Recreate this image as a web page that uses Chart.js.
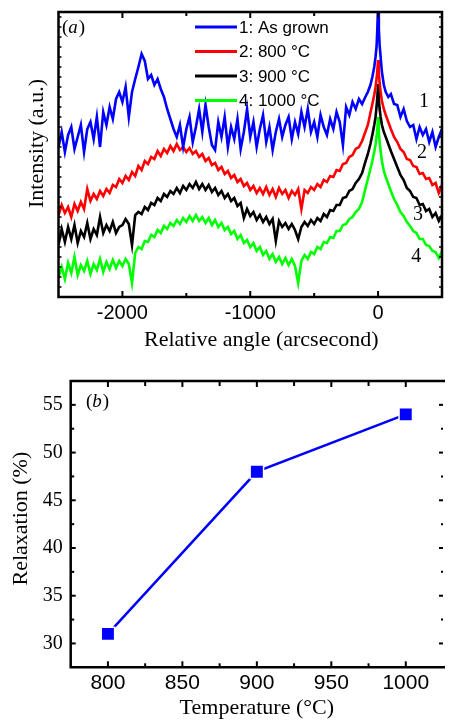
<!DOCTYPE html>
<html><head><meta charset="utf-8">
<script src="https://cdn.jsdelivr.net/npm/chart.js@4/dist/chart.umd.min.js"></script>
<style>
html,body{margin:0;padding:0;background:#fff;width:454px;height:720px;overflow:hidden}
canvas{display:block;position:absolute;left:0}
#ca{top:0}#cb{top:360px}
</style></head><body>
<canvas id="ca" width="454" height="360"></canvas>
<canvas id="cb" width="454" height="360"></canvas>
<script>
// ---------- Panel (a): rocking curves (relative angle in arcsec, intensity in arbitrary units) ----------
const ANGLE = [
-2500,-2475,-2450,-2425,-2400,-2375,-2350,-2325,-2300,-2275,
-2250,-2225,-2200,-2175,-2150,-2125,-2100,-2075,-2050,-2025,
-2000,-1975,-1950,-1925,-1900,-1875,-1850,-1825,-1800,-1775,
-1750,-1725,-1700,-1675,-1650,-1625,-1600,-1575,-1550,-1525,
-1500,-1475,-1450,-1425,-1400,-1375,-1350,-1325,-1300,-1275,
-1250,-1225,-1200,-1175,-1150,-1125,-1100,-1075,-1050,-1025,
-1000,-975,-950,-925,-900,-875,-850,-825,-800,-775,
-750,-725,-700,-675,-650,-625,-600,-575,-550,-525,
-500,-475,-450,-425,-400,-375,-350,-325,-300,-275,
-250,-225,-200,-175,-150,
-125,-100,-80,-60,-45,-30,-20,-12,-6,0,6,12,20,30,45,60,80,100,125,
150,175,200,225,250,275,300,325,350,375,400,425,450,475,500];

const I_ASGROWN = [
150,165,145,162,170,148,160,172,145,168,
175,158,180,150,185,172,190,178,198,205,
195,210,180,205,218,230,243,236,218,222,
212,218,208,200,188,178,168,160,172,150,
168,180,155,170,188,165,192,170,152,147,
175,160,180,150,170,158,178,148,165,188,
160,175,150,168,182,155,170,147,165,178,
160,172,180,158,175,163,185,170,188,165,
175,160,182,170,162,178,168,185,175,152,
190,182,195,188,198,
193,200,205,212,220,230,240,250,268,292,268,252,240,225,212,205,200,203,193,
192,180,188,176,170,172,158,170,162,168,155,165,150,160,168];

const I_800 = [
82,92,84,90,80,93,86,95,88,108,
96,103,98,106,101,108,104,112,110,118,
114,121,117,125,121,131,127,136,133,140,
138,146,141,148,144,151,146,153,147,150,
145,149,143,146,140,143,136,139,132,134,
127,130,123,126,119,122,115,118,111,114,
107,111,104,109,103,110,102,108,100,109,
103,107,99,106,102,108,88,107,104,110,
107,113,110,117,115,121,120,127,126,133,
134,140,142,148,150,
156,165,172,184,193,202,210,218,226,237,224,214,205,196,188,182,175,168,160,
155,148,145,138,137,131,130,123,124,118,119,112,114,104,112];

const I_900 = [
52,68,55,70,58,72,54,66,60,74,
58,68,62,80,64,72,66,75,64,70,
72,78,73,52,82,85,83,90,87,94,
92,99,96,103,100,106,103,109,104,111,
107,113,109,115,108,113,107,112,105,109,
102,106,99,103,96,99,91,94,79,88,
81,85,77,82,75,80,73,78,56,76,
70,74,68,73,67,58,70,75,71,77,
73,79,76,83,80,87,86,92,92,99,
100,106,108,114,118,
124,135,143,153,162,172,180,190,200,213,198,188,180,172,165,160,153,146,138,
130,122,117,109,106,100,99,92,93,86,88,80,84,76,82];

const I_1000 = [
20,30,18,34,24,40,22,32,26,36,
23,33,27,38,25,35,28,37,29,36,
31,38,33,14,44,50,48,56,55,62,
60,67,64,71,68,74,71,77,73,79,
75,81,76,82,76,80,74,79,72,77,
70,74,67,70,63,66,58,62,54,57,
50,54,46,50,42,46,38,43,35,40,
33,39,32,38,31,14,36,42,38,45,
43,50,48,55,54,60,59,66,66,72,
73,78,80,85,88,
95,108,118,128,136,145,152,160,168,180,165,155,146,136,126,120,113,106,98,
92,85,81,75,71,66,64,58,58,52,51,46,45,39,46];

const SERIES_LABELS = ['1: As grown', '2: 800 °C', '3: 900 °C', '4: 1000 °C'];
const CURVE_TAGS = ['1', '2', '3', '4'];
const XA_TICKS = [-2000, -1000, 0];
const XA_MINOR = [-1500, -500];

// ---------- Panel (b): relaxation vs temperature ----------
const TEMP = [800, 900, 1000];
const RELAX = [31, 48, 54];
const XB_TICKS = [800, 850, 900, 950, 1000];
const XB_MINOR = [825, 875, 925, 975];
const YB_TICKS = [30, 35, 40, 45, 50, 55];
const YB_MINOR = [32.5, 37.5, 42.5, 47.5, 52.5];

const SERIF = '"Liberation Serif", "Times New Roman", serif';
const SANS = '"Liberation Sans", Arial, sans-serif';
const COLORS = ['#0000ff', '#ff0000', '#000000', '#00ff00'];

function seg(ctx, x1, y1, x2, y2) { ctx.beginPath(); ctx.moveTo(x1, y1); ctx.lineTo(x2, y2); ctx.stroke(); }
const pts = arr => ANGLE.map((a, i) => ({x: a, y: arr[i]}));

const panelA = {
  id: 'panelA',
  afterDraw(chart) {
    const {ctx, chartArea: a, scales: {x, y}} = chart;
    ctx.save();
    ctx.strokeStyle = '#000';
    ctx.lineWidth = 2.5;
    ctx.strokeRect(a.left, a.top, a.right - a.left, a.bottom - a.top);
    ctx.lineWidth = 2;
    XA_TICKS.forEach(v => { const p = x.getPixelForValue(v); seg(ctx, p, a.bottom, p, a.bottom - 6); seg(ctx, p, a.top, p, a.top + 6); });
    XA_MINOR.forEach(v => { const p = x.getPixelForValue(v); seg(ctx, p, a.bottom, p, a.bottom - 4); seg(ctx, p, a.top, p, a.top + 4); });
    ctx.lineWidth = 1.5;
    for (let v = 10; v < 285; v += 10) { const p = y.getPixelForValue(v); seg(ctx, a.left, p, a.left + 3, p); seg(ctx, a.right, p, a.right - 3, p); }
    // legend
    ctx.font = '17px ' + SANS;
    ctx.textBaseline = 'middle';
    ctx.textAlign = 'left';
    chart.data.datasets.forEach((ds, i) => {
      const yy = 27 + i * 24.5;
      ctx.strokeStyle = ds.borderColor; ctx.lineWidth = 3;
      seg(ctx, 195, yy, 237, yy);
      ctx.fillStyle = '#000';
      ctx.fillText(ds.label, 239, yy + 1);
    });
    // curve numbers
    ctx.font = '20px ' + SERIF;
    ctx.textAlign = 'center';
    const tagPos = [[360, 195], [344, 144], [313, 82], [298, 40]];
    CURVE_TAGS.forEach((t, i) => ctx.fillText(t, x.getPixelForValue(tagPos[i][0]), y.getPixelForValue(tagPos[i][1])));
    // panel label
    ctx.textAlign = 'left';
    ctx.font = '19px ' + SERIF;
    ctx.fillText('(', 62, 28);
    let w = ctx.measureText('(').width;
    ctx.font = 'italic 19px ' + SERIF;
    ctx.fillText('a', 62 + w, 28);
    w += ctx.measureText('a').width;
    ctx.font = '19px ' + SERIF;
    ctx.fillText(')', 62 + w + 1, 28);
    ctx.restore();
  }
};

new Chart(document.getElementById('ca'), {
  type: 'line',
  data: {
    datasets: [I_ASGROWN, I_800, I_900, I_1000].map((arr, i) => ({
      label: SERIES_LABELS[i], data: pts(arr), borderColor: COLORS[i], backgroundColor: COLORS[i],
      borderWidth: 2.6, pointRadius: 0, tension: 0, fill: false, borderJoinStyle: 'miter'
    }))
  },
  options: {
    responsive: false, devicePixelRatio: 1, animation: false,
    layout: {padding: {top: 12, right: 12, left: 0.5, bottom: 0}},
    plugins: {legend: {display: false}, tooltip: {enabled: false}},
    scales: {
      x: {
        type: 'linear', min: -2500, max: 500,
        afterBuildTicks: s => { s.ticks = XA_TICKS.map(v => ({value: v})); },
        afterFit: s => { s.height = 63; },
        grid: {display: false, drawTicks: false}, border: {display: false},
        ticks: {padding: 4, color: '#000', font: {family: SANS, size: 20}, callback: v => String(v), maxRotation: 0},
        title: {display: true, text: '    Relative angle (arcsecond)', color: '#000', font: {family: SERIF, size: 22}, padding: {top: 0, bottom: 7}}
      },
      y: {
        type: 'linear', min: 0, max: 285,
        afterFit: s => { s.width = 58; },
        grid: {display: false, drawTicks: false}, border: {display: false},
        ticks: {display: false},
        title: {display: true, text: '    Intensity (a.u.)', color: '#000', font: {family: SERIF, size: 22}, padding: {top: 24, bottom: 0}}
      }
    }
  },
  plugins: [panelA]
});

const panelB = {
  id: 'panelB',
  afterDraw(chart) {
    const {ctx, chartArea: a, scales: {x, y}} = chart;
    ctx.save();
    ctx.strokeStyle = '#000';
    ctx.lineWidth = 2.5;
    ctx.beginPath();
    ctx.moveTo(a.right + 2, a.top); ctx.lineTo(a.left, a.top); ctx.lineTo(a.left, a.bottom); ctx.lineTo(a.right + 2, a.bottom);
    ctx.stroke();
    ctx.lineWidth = 2;
    XB_TICKS.forEach(v => { const p = x.getPixelForValue(v); seg(ctx, p, a.bottom, p, a.bottom - 6); seg(ctx, p, a.top, p, a.top + 6); });
    XB_MINOR.forEach(v => { const p = x.getPixelForValue(v); seg(ctx, p, a.bottom, p, a.bottom - 4); seg(ctx, p, a.top, p, a.top + 5); });
    YB_TICKS.forEach(v => { const p = y.getPixelForValue(v); seg(ctx, a.left, p, a.left + 5, p); seg(ctx, a.right, p, a.right - 4, p); });
    YB_MINOR.forEach(v => { const p = y.getPixelForValue(v); seg(ctx, a.left, p, a.left + 3.5, p); seg(ctx, a.right, p, a.right - 2, p); });
    ctx.fillStyle = '#000';
    ctx.textBaseline = 'middle';
    ctx.textAlign = 'left';
    ctx.font = '19px ' + SERIF;
    ctx.fillText('(', 86, 42);
    let w = ctx.measureText('(').width;
    ctx.font = 'italic 19px ' + SERIF;
    ctx.fillText('b', 86 + w, 42);
    w += ctx.measureText('b').width;
    ctx.font = '19px ' + SERIF;
    ctx.fillText(')', 86 + w + 1, 42);
    ctx.restore();
  }
};

new Chart(document.getElementById('cb'), {
  type: 'line',
  data: {
    datasets: [{
      label: 'Relaxation', data: TEMP.map((t, i) => ({x: t, y: RELAX[i]})),
      borderColor: '#0000ff', backgroundColor: '#0000ff', borderWidth: 2.5, tension: 0,
      pointStyle: 'rect', pointRadius: 9.5, pointBackgroundColor: '#0000ff',
      pointBorderColor: '#ffffff', pointBorderWidth: 1.5
    }]
  },
  options: {
    responsive: false, devicePixelRatio: 1, animation: false,
    layout: {padding: {top: 21, right: 0.5, left: 0, bottom: 0}},
    plugins: {legend: {display: false}, tooltip: {enabled: false}},
    scales: {
      x: {
        type: 'linear', min: 775, max: 1025,
        afterBuildTicks: s => { s.ticks = XB_TICKS.map(v => ({value: v})); },
        afterFit: s => { s.height = 52.7; },
        grid: {display: false, drawTicks: false}, border: {display: false},
        ticks: {padding: 3, color: '#000', font: {family: SANS, size: 21}, callback: v => String(v), maxRotation: 0},
        title: {display: true, text: 'Temperature (°C)', color: '#000', font: {family: SERIF, size: 22, lineHeight: 1.1}, padding: {top: 0, bottom: 0}}
      },
      y: {
        type: 'linear', min: 27.5, max: 57.5,
        afterBuildTicks: s => { s.ticks = YB_TICKS.map(v => ({value: v})); },
        afterFit: s => { s.width = 70.7; },
        grid: {display: false, drawTicks: false}, border: {display: false},
        ticks: {padding: 8, color: '#000', font: {family: SERIF, size: 20}, callback: v => String(v)},
        title: {display: true, text: '  Relaxation (%)', color: '#000', font: {family: SERIF, size: 22}, padding: {top: 8, bottom: 0}}
      }
    }
  },
  plugins: [panelB]
});
</script>
</body></html>
